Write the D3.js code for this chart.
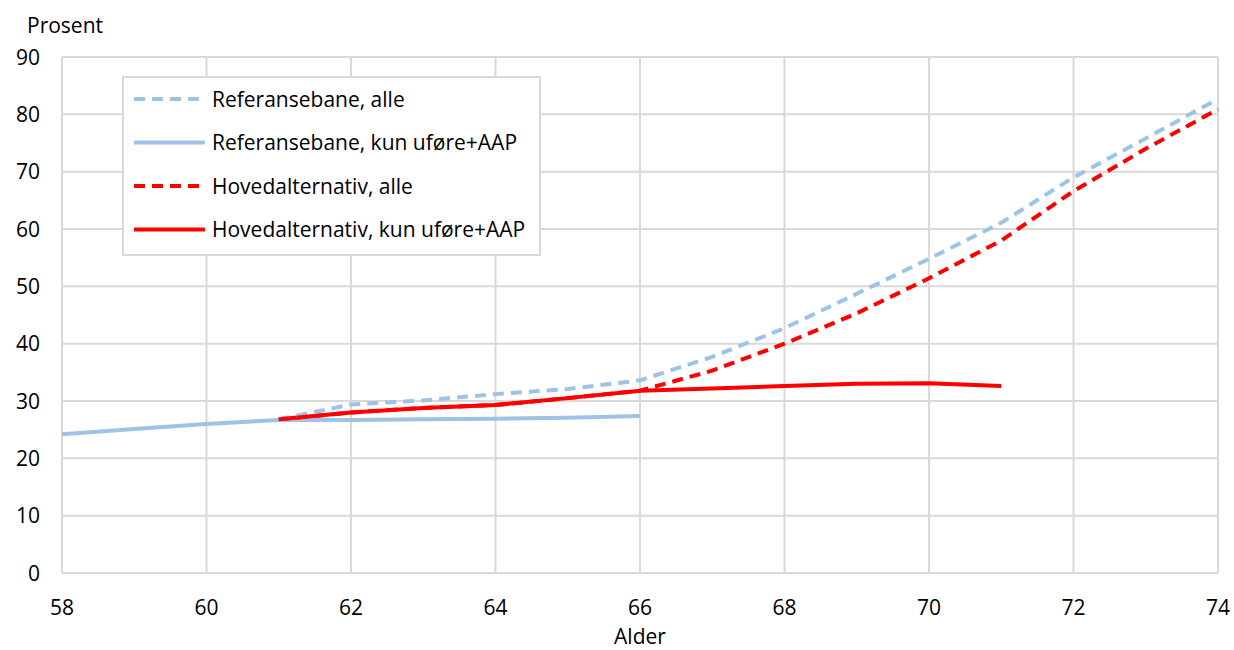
<!DOCTYPE html>
<html><head><meta charset="utf-8">
<script src="https://cdn.jsdelivr.net/npm/d3@7"></script>
<style>body{margin:0;background:#fff;} text{font-family:"Open Sans",sans-serif;fill:#000;}</style>
</head><body>
<svg id="c" width="1234" height="650"></svg>
<script>
const xTicks = [58,60,62,64,66,68,70,72,74];
const yTicks = [0,10,20,30,40,50,60,70,80,90];
const refAllAge = [61,62,63,64,65,66,67,68,69,70,71,72,73,74];
const refAll    = [26.8,29.4,30.1,31.2,32.1,33.6,37.7,42.7,48.7,54.8,61.1,69.0,75.8,82.7];
const refUfAge  = [58,59,60,61,62,63,64,65,66];
const refUf     = [24.2,25.1,26.0,26.7,26.7,26.8,26.9,27.1,27.4];
const hovAllAge = [61,62,63,64,65,66,67,68,69,70,71,72,73,74];
const hovAll    = [26.8,28.0,28.8,29.3,30.5,31.8,35.3,40.0,45.3,51.4,58.0,66.6,74.0,80.9];
const hovUfAge  = [61,62,63,64,65,66,67,68,69,70,71];
const hovUf     = [26.8,28.0,28.8,29.3,30.5,31.8,32.2,32.6,33.0,33.1,32.6];
const seriesNames = ["Referansebane, alle","Referansebane, kun uføre+AAP","Hovedalternativ, alle","Hovedalternativ, kun uføre+AAP"];

const svg = d3.select("#c");
const L=62,R=1218,T=57,B=573;
const FS=21;
const x = d3.scaleLinear().domain([58,74]).range([L,R]);
const y = d3.scaleLinear().domain([0,90]).range([B,T]);
const grid="#d9d9d9";
const g = svg.append("g");
g.selectAll(".hg").data(yTicks).enter().append("line")
 .attr("x1",L).attr("x2",R).attr("y1",d=>y(d)).attr("y2",d=>y(d)).attr("stroke",grid).attr("stroke-width",2);
g.selectAll(".vg").data(xTicks).enter().append("line")
 .attr("y1",T).attr("y2",B).attr("x1",d=>x(d)).attr("x2",d=>x(d)).attr("stroke",grid).attr("stroke-width",2);
g.selectAll(".yl").data(yTicks).enter().append("text")
 .attr("x",40).attr("y",d=>y(d)+7.5).attr("text-anchor","end").attr("font-size",FS).text(d=>d);
g.selectAll(".xl").data(xTicks).enter().append("text")
 .attr("x",d=>x(d)).attr("y",615).attr("text-anchor","middle").attr("font-size",FS).text(d=>d);
svg.append("text").attr("x",27).attr("y",33).attr("font-size",FS).text("Prosent");
svg.append("text").attr("x",640).attr("y",644).attr("text-anchor","middle").attr("font-size",FS).text("Alder");

const blue="#9dc3e6", red="#ff0000";
const sers=[
 {a:refAllAge,v:refAll,c:blue,d:"11,7"},
 {a:refUfAge,v:refUf,c:blue,d:null},
 {a:hovAllAge,v:hovAll,c:red,d:"11,7"},
 {a:hovUfAge,v:hovUf,c:red,d:null}];
const line=d3.line().x(d=>x(d[0])).y(d=>y(d[1]));
[1,3,0,2].forEach(i=>{
 const s=sers[i];
 svg.append("path").attr("d",line(s.a.map((a,j)=>[a,s.v[j]])))
  .attr("fill","none").attr("stroke",s.c).attr("stroke-width",4)
  .attr("stroke-linejoin","round").attr("stroke-dasharray",s.d);
});

const lg=svg.append("g");
lg.append("rect").attr("x",123).attr("y",77).attr("width",417).attr("height",178)
 .attr("fill","#fff").attr("stroke",grid).attr("stroke-width",2);
seriesNames.forEach((n,i)=>{
 const yy=99+i*43.5;
 lg.append("line").attr("x1",134).attr("x2",205).attr("y1",yy).attr("y2",yy)
  .attr("stroke",sers[i].c).attr("stroke-width",4).attr("stroke-dasharray",sers[i].d);
 lg.append("text").attr("x",212).attr("y",yy+7.5).attr("font-size",FS).text(n);
});
</script>
</body></html>
